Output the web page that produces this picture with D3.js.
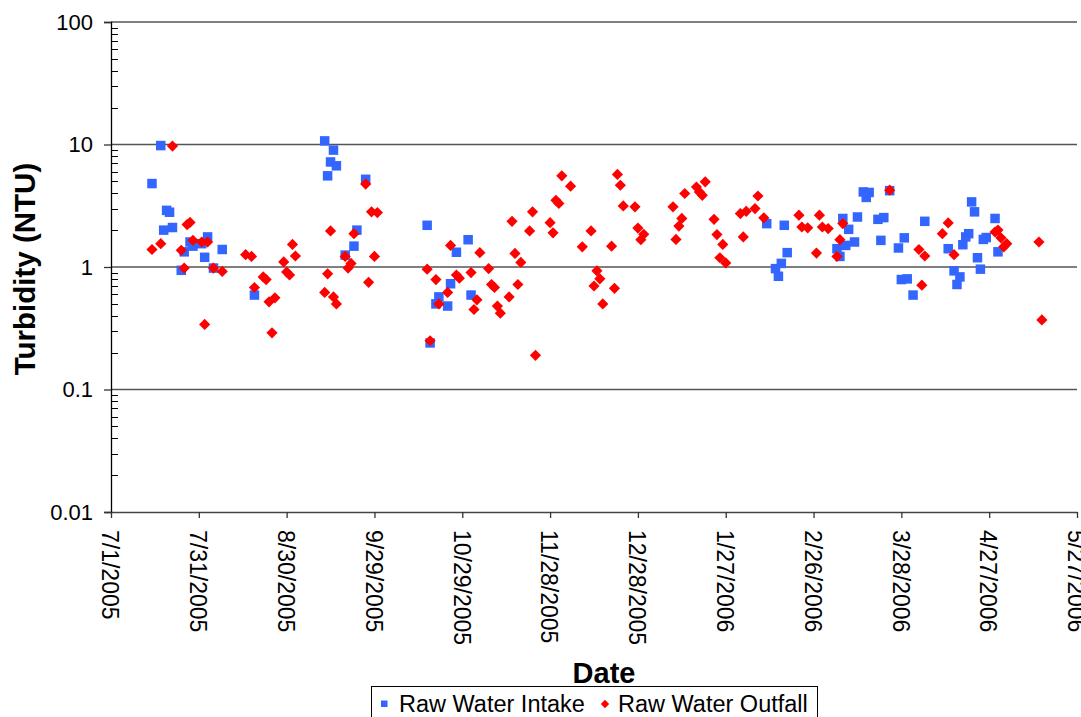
<!DOCTYPE html>
<html>
<head>
<meta charset="utf-8">
<script src="https://cdn.jsdelivr.net/npm/d3@7"></script>
<style>
  html, body { margin: 0; padding: 0; background: #fff; }
  svg { display: block; font-family: "Liberation Sans", Arial, sans-serif; }
</style>
</head>
<body>
<svg id="chart" width="1081" height="717"></svg>
<script>
// Raw water intake turbidity samples
const intakeDates = ["2005-07-15","2005-07-18","2005-07-19","2005-07-20","2005-07-21","2005-07-22","2005-07-25","2005-07-26","2005-07-28","2005-07-29","2005-08-01","2005-08-02","2005-08-03","2005-08-05","2005-08-08","2005-08-19","2005-09-12","2005-09-13","2005-09-14","2005-09-15","2005-09-16","2005-09-19","2005-09-22","2005-09-23","2005-09-26","2005-10-17","2005-10-18","2005-10-20","2005-10-21","2005-10-24","2005-10-25","2005-10-27","2005-10-31","2005-11-01","2006-02-10","2006-02-13","2006-02-14","2006-02-15","2006-02-16","2006-02-17","2006-03-06","2006-03-07","2006-03-08","2006-03-09","2006-03-10","2006-03-12","2006-03-13","2006-03-15","2006-03-16","2006-03-17","2006-03-20","2006-03-21","2006-03-22","2006-03-24","2006-03-27","2006-03-28","2006-03-29","2006-03-30","2006-04-01","2006-04-05","2006-04-13","2006-04-15","2006-04-16","2006-04-17","2006-04-18","2006-04-19","2006-04-20","2006-04-21","2006-04-22","2006-04-23","2006-04-24","2006-04-25","2006-04-26","2006-04-29","2006-04-30"];
const intakeNTU = [4.8,9.8,2.0,2.9,2.8,2.1,0.94,1.33,1.6,1.48,1.55,1.2,1.76,0.98,1.39,0.59,10.7,5.55,7.2,9.0,6.7,1.25,1.48,2.0,5.2,2.19,0.24,0.50,0.57,0.48,0.73,1.32,1.67,0.59,2.26,0.97,0.84,1.07,2.19,1.31,1.41,1.22,2.49,1.5,2.03,1.6,2.56,4.1,3.7,4.06,2.45,1.65,2.53,4.2,1.43,0.79,1.73,0.80,0.59,2.36,1.41,0.93,0.72,0.83,1.52,1.76,1.87,3.4,2.82,1.19,0.96,1.68,1.74,2.49,1.33];

// Raw water outfall turbidity samples
const outfallDates = ["2005-07-15","2005-07-18","2005-07-22","2005-07-25","2005-07-26","2005-07-27","2005-07-28","2005-07-29","2005-08-01","2005-08-02","2005-08-03","2005-08-05","2005-08-08","2005-08-16","2005-08-18","2005-08-19","2005-08-22","2005-08-23","2005-08-24","2005-08-25","2005-08-26","2005-08-29","2005-08-30","2005-08-31","2005-09-01","2005-09-02","2005-09-12","2005-09-13","2005-09-14","2005-09-15","2005-09-16","2005-09-19","2005-09-20","2005-09-21","2005-09-22","2005-09-26","2005-09-27","2005-09-28","2005-09-29","2005-09-30","2005-10-17","2005-10-18","2005-10-20","2005-10-21","2005-10-24","2005-10-25","2005-10-27","2005-10-28","2005-11-01","2005-11-02","2005-11-03","2005-11-04","2005-11-07","2005-11-08","2005-11-09","2005-11-10","2005-11-11","2005-11-14","2005-11-15","2005-11-16","2005-11-17","2005-11-18","2005-11-21","2005-11-22","2005-11-23","2005-11-28","2005-11-29","2005-11-30","2005-12-01","2005-12-02","2005-12-05","2005-12-09","2005-12-12","2005-12-13","2005-12-14","2005-12-15","2005-12-16","2005-12-19","2005-12-20","2005-12-21","2005-12-22","2005-12-23","2005-12-27","2005-12-28","2005-12-29","2005-12-30","2006-01-09","2006-01-10","2006-01-11","2006-01-12","2006-01-13","2006-01-17","2006-01-18","2006-01-19","2006-01-20","2006-01-23","2006-01-24","2006-01-25","2006-01-26","2006-01-27","2006-02-01","2006-02-02","2006-02-03","2006-02-06","2006-02-07","2006-02-09","2006-02-21","2006-02-22","2006-02-24","2006-02-27","2006-02-28","2006-03-01","2006-03-03","2006-03-06","2006-03-07","2006-03-08","2006-03-24","2006-04-03","2006-04-04","2006-04-05","2006-04-11","2006-04-13","2006-04-15","2006-04-29","2006-04-30","2006-05-01","2006-05-02","2006-05-03","2006-05-14","2006-05-15"];
const outfallNTU = [1.39,1.55,9.7,1.37,0.98,2.22,2.31,1.65,1.6,0.34,1.6,0.98,0.92,1.26,1.22,0.68,0.83,0.79,0.52,0.29,0.56,1.1,0.91,0.86,1.53,1.23,0.62,0.88,1.97,0.57,0.50,1.22,0.98,1.07,1.87,4.75,0.75,2.82,1.22,2.78,0.96,0.25,0.79,0.50,0.62,1.5,0.86,0.81,0.9,0.45,0.54,1.31,0.97,0.72,0.68,0.48,0.42,0.57,2.36,1.29,0.72,1.09,1.97,2.82,0.19,2.3,1.9,3.5,3.3,5.55,4.57,1.46,1.97,0.70,0.93,0.80,0.50,1.48,0.67,5.7,4.65,3.15,3.1,2.08,1.67,1.85,3.1,1.68,2.16,2.49,3.98,4.5,4.1,3.85,4.96,2.45,1.84,1.19,1.53,1.08,2.73,1.76,2.85,3.0,3.8,2.52,2.65,2.12,2.09,1.30,2.65,2.12,2.06,1.22,1.67,2.26,4.24,1.39,0.71,1.23,1.87,2.29,1.26,1.93,2.0,1.73,1.46,1.55,1.6,0.37];

// Axis ticks
const xTickDates = ["2005-07-01","2005-07-31","2005-08-30","2005-09-29","2005-10-29","2005-11-28","2005-12-28","2006-01-27","2006-02-26","2006-03-28","2006-04-27","2006-05-27"];
const xTickLabels = ["7/1/2005","7/31/2005","8/30/2005","9/29/2005","10/29/2005","11/28/2005","12/28/2005","1/27/2006","2/26/2006","3/28/2006","4/27/2006","5/27/2006"];
const yTickValues = [0.01, 0.1, 1, 10, 100];
const yTickLabels = ["0.01", "0.1", "1", "10", "100"];
const seriesNames = ["Raw Water Intake", "Raw Water Outfall"];

const parse = d3.utcParse("%Y-%m-%d");
const intake = intakeDates.map((d, i) => ({ date: parse(d), v: intakeNTU[i] }));
const outfall = outfallDates.map((d, i) => ({ date: parse(d), v: outfallNTU[i] }));

const svg = d3.select("#chart");
const plot = { left: 111, right: 1077, top: 22, bottom: 512 };

const x = d3.scaleUtc()
  .domain([parse(xTickDates[0]), parse(xTickDates[xTickDates.length - 1])])
  .range([plot.left, plot.right]);
const y = d3.scaleLog()
  .domain([0.01, 100])
  .range([plot.bottom, plot.top]);

const BLUE = "#3366ff";
const RED = "#ff0000";

// Horizontal gridlines at each decade
svg.append("g")
  .selectAll("line")
  .data(yTickValues.slice(1))
  .join("line")
  .attr("x1", plot.left).attr("x2", plot.right)
  .attr("y1", d => y(d)).attr("y2", d => y(d))
  .attr("stroke", "#555").attr("stroke-width", 1.3);

// Minor log ticks (inside the plot)
const minor = [];
for (let e = -2; e < 2; e++) for (let m = 2; m <= 9; m++) minor.push(m * Math.pow(10, e));
svg.append("g")
  .selectAll("line")
  .data(minor)
  .join("line")
  .attr("x1", plot.left).attr("x2", plot.left + 7)
  .attr("y1", d => Math.round(y(d)) + 0.5).attr("y2", d => Math.round(y(d)) + 0.5)
  .attr("stroke", "#000").attr("stroke-width", 1);

// Y axis (major ticks outside)
const yAxis = d3.axisLeft(y)
  .tickValues(yTickValues)
  .tickFormat((d, i) => yTickLabels[i])
  .tickSize(7)
  .tickPadding(11);
const gy = svg.append("g").attr("transform", `translate(${plot.left},0)`).call(yAxis);
gy.select(".domain").attr("stroke", "#000").attr("stroke-width", 1.3);
gy.selectAll(".tick line").attr("stroke", "#333").attr("stroke-width", 1.3);
gy.selectAll(".tick text")
  .attr("font-family", "Liberation Sans, Arial, sans-serif")
  .attr("font-size", 22).attr("fill", "#000");

// X axis
const xAxis = d3.axisBottom(x)
  .tickValues(xTickDates.map(parse))
  .tickFormat((d, i) => xTickLabels[i])
  .tickSize(6)
  .tickSizeOuter(0);
const gx = svg.append("g").attr("transform", `translate(0,${plot.bottom})`).call(xAxis);
gx.select(".domain").attr("stroke", "#444").attr("stroke-width", 1.3);
gx.selectAll(".tick line").attr("stroke", "#333").attr("stroke-width", 1.3);
gx.selectAll(".tick text")
  .attr("font-family", "Liberation Sans, Arial, sans-serif")
  .attr("font-size", 23).attr("fill", "#000")
  .attr("text-anchor", "start")
  .attr("transform", "translate(0,18) rotate(90)")
  .attr("x", 0).attr("y", 0).attr("dy", "0.4em");

// Markers: intake squares first, outfall diamonds drawn on top
const sq = 9.5;
svg.append("g")
  .selectAll("rect")
  .data(intake)
  .join("rect")
  .attr("x", d => x(d.date) - sq / 2)
  .attr("y", d => y(d.v) - sq / 2)
  .attr("width", sq).attr("height", sq)
  .attr("fill", BLUE);

const diamond = r => `M0,${-r}L${r},0L0,${r}L${-r},0Z`;
svg.append("g")
  .selectAll("path")
  .data(outfall)
  .join("path")
  .attr("transform", d => `translate(${x(d.date)},${y(d.v)})`)
  .attr("d", diamond(5.6))
  .attr("fill", RED);

// Axis titles
svg.append("text")
  .attr("transform", "translate(35,269) rotate(-90)")
  .attr("text-anchor", "middle")
  .attr("font-size", 29.5).attr("font-weight", "bold")
  .text("Turbidity (NTU)");

svg.append("text")
  .attr("x", 604).attr("y", 683)
  .attr("text-anchor", "middle")
  .attr("font-size", 29).attr("font-weight", "bold")
  .text("Date");

// Legend
const lg = svg.append("g");
lg.append("rect")
  .attr("x", 371.5).attr("y", 686.5)
  .attr("width", 446).attr("height", 45)
  .attr("fill", "#fff").attr("stroke", "#000").attr("stroke-width", 1);
lg.append("rect")
  .attr("x", 381).attr("y", 700.5).attr("width", 6.5).attr("height", 6.5)
  .attr("fill", BLUE);
lg.append("text")
  .attr("x", 399).attr("y", 712)
  .attr("font-size", 23.5)
  .text(seriesNames[0]);
lg.append("path")
  .attr("transform", "translate(605,704)")
  .attr("d", diamond(4.2))
  .attr("fill", RED);
lg.append("text")
  .attr("x", 618).attr("y", 712)
  .attr("font-size", 23.5)
  .text(seriesNames[1]);
</script>
</body>
</html>
